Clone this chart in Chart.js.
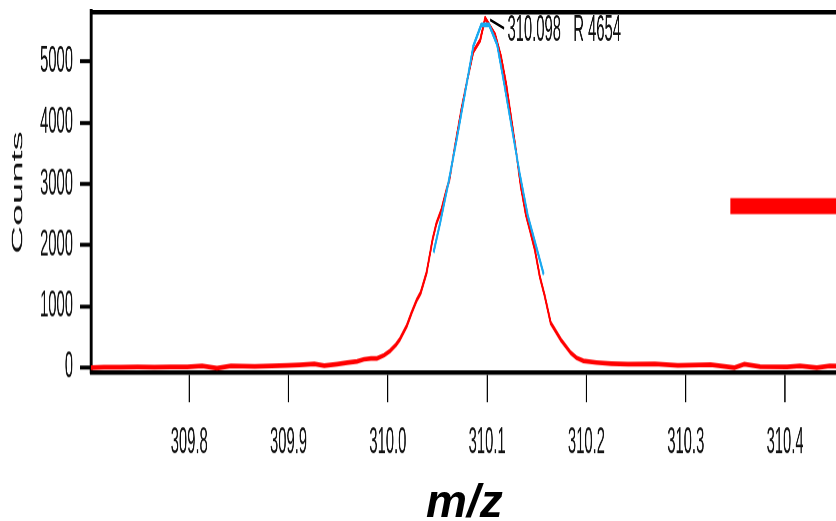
<!DOCTYPE html>
<html>
<head>
<meta charset="utf-8">
<script src="https://cdn.jsdelivr.net/npm/chart.js@4.4.1/dist/chart.umd.min.js"></script>
<style>
  html, body { margin: 0; padding: 0; background: #fff; width: 836px; height: 521px; overflow: hidden; }
  /* the plot is drawn squat and stretched vertically, like the exported trace */
  #plot { position: absolute; left: 0; top: 0; width: 900px; height: 208.4px; transform: scaleY(2.5); transform-origin: 0 0; }
  #mz { position: absolute; left: 426px; top: 478px; font: italic bold 46px 'Liberation Sans', Arial, sans-serif; line-height: 1; color: #000; }
</style>
</head>
<body>
<div id="plot"><canvas id="spectrum"></canvas></div>
<div id="mz">m/z</div>
<script>
// measured profile (red)
const profileMz = [309.701, 309.714, 309.731, 309.748, 309.765, 309.781, 309.798, 309.813, 309.828, 309.842,
  309.866, 309.883, 309.899, 309.911, 309.926, 309.936, 309.949, 309.959, 309.969, 309.976,
  309.983, 309.989, 309.996, 310.002, 310.008, 310.012, 310.019, 310.024, 310.029, 310.033,
  310.039, 310.045, 310.049, 310.054, 310.059, 310.062, 310.067, 310.074, 310.080, 310.086,
  310.093, 310.098, 310.108, 310.114, 310.119, 310.123, 310.129, 310.134, 310.139, 310.143,
  310.148, 310.153, 310.158, 310.164, 310.174, 310.184, 310.190, 310.197, 310.210, 310.225,
  310.242, 310.269, 310.292, 310.325, 310.349, 310.359, 310.375, 310.402, 310.415, 310.432,
  310.445, 310.470, 310.490];
const profileCounts = [0, 5, 5, 10, 5, 10, 10, 25, -10, 25,
  20, 25, 37, 45, 60, 32, 55, 80, 100, 135,
  150, 150, 200, 270, 370, 460, 680, 900, 1100, 1220,
  1550, 2090, 2360, 2580, 2900, 3070, 3560, 4210, 4700, 5160,
  5350, 5710, 5440, 5080, 4650, 4210, 3550, 2950, 2500, 2250,
  1930, 1490, 1170, 730, 460, 245, 160, 108, 82, 65,
  54, 59, 37, 49, 0, 54, 16, 10, 26, 0,
  26, 20, 25];

// peak fit (blue)
const fitMz = [310.046, 310.053, 310.061, 310.069, 310.077, 310.086, 310.094, 310.102, 310.110, 310.117,
  310.125, 310.133, 310.141, 310.149, 310.157];
const fitCounts = [1880, 2390, 3020, 3700, 4420, 5250, 5600, 5600, 5280, 4650,
  3900, 3150, 2480, 2000, 1520];

// legend swatch, mostly off the right edge
const keyMz = [310.345, 310.51];
const keyCounts = [2640, 2640];

const peakMz = 310.098;
const peakResolution = 4654;

const xTicks = [309.8, 309.9, 310.0, 310.1, 310.2, 310.3, 310.4];
const yTicks = [0, 1000, 2000, 3000, 4000, 5000];

const sans = "'Liberation Sans', Arial, sans-serif";

const toPoints = (xs, ys) => xs.map((v, i) => ({ x: v, y: ys[i] }));

// centroid label with its little leader line
const peakLabel = {
  id: 'peakLabel',
  afterDatasetsDraw(chart) {
    const { ctx, scales: { x, y } } = chart;
    const px = x.getPixelForValue(peakMz);
    const py = y.getPixelForValue(profileCounts[profileMz.indexOf(peakMz)]);
    ctx.save();
    ctx.strokeStyle = '#000';
    ctx.lineWidth = 1.1;
    ctx.beginPath();
    ctx.moveTo(px + 5, py + 0.7);
    ctx.lineTo(px + 19, py + 4.1);
    ctx.stroke();
    ctx.font = '14.8px ' + sans;
    ctx.fillStyle = '#111';
    ctx.textBaseline = 'middle';
    ctx.fillText(peakMz.toFixed(3) + '   R ' + peakResolution, px + 22.3, py + 5.1);
    ctx.restore();
  }
};

new Chart(document.getElementById('spectrum'), {
  type: 'line',
  data: {
    datasets: [
      { data: toPoints(fitMz, fitCounts), borderColor: '#1aa9f0', borderWidth: 1.9, xAxisID: 'x', yAxisID: 'y' },
      { data: toPoints(profileMz, profileCounts), borderColor: '#ff0000', borderWidth: 1.9, xAxisID: 'x', yAxisID: 'y' },
      { data: toPoints(keyMz, keyCounts), borderColor: '#ff0000', borderWidth: 6.4, borderCapStyle: 'butt', xAxisID: 'x', yAxisID: 'y' }
    ]
  },
  options: {
    responsive: true,
    maintainAspectRatio: false,
    animation: false,
    devicePixelRatio: 2.5,
    layout: { padding: { top: 5, left: 0, right: 0, bottom: 0 } },
    elements: {
      line: { tension: 0, borderJoinStyle: 'round' },
      point: { radius: 0 }
    },
    plugins: {
      legend: { display: false },
      tooltip: { enabled: false }
    },
    scales: {
      x: {
        type: 'linear',
        position: 'bottom',
        min: 309.7011,
        max: 310.5125,
        border: { color: '#000', width: 1.8 },
        grid: { drawOnChartArea: false, drawTicks: true, tickLength: 12, tickWidth: 1.3, tickColor: '#000' },
        ticks: {
          padding: 7.6, color: '#111', maxRotation: 0, autoSkip: false,
          font: { family: sans, size: 14.8 },
          callback: v => v.toFixed(1)
        },
        afterBuildTicks: s => { s.ticks = xTicks.map(v => ({ value: v })); },
        afterFit: s => { s.height = 59.2; s.paddingLeft = 0; s.paddingRight = 0; }
      },
      top: {
        type: 'linear',
        position: 'top',
        border: { color: '#000', width: 1.8 },
        grid: { display: false, drawTicks: false },
        ticks: { display: false }
      },
      y: {
        type: 'linear',
        min: -77,
        max: 5802,
        border: { color: '#000', width: 3 },
        grid: { drawOnChartArea: false, drawTicks: true, tickLength: 11, tickWidth: 1.6, tickColor: '#000' },
        ticks: { padding: 7, color: '#111', font: { family: sans, size: 14.8 }, callback: v => String(v) },
        title: {
          display: true, text: 'Counts', color: '#111',
          font: { family: sans, size: 15.5 },
          padding: { top: 8.7, bottom: 0 }
        },
        afterBuildTicks: s => { s.ticks = yTicks.map(v => ({ value: v })); },
        afterFit: s => { s.width = 91; s.paddingTop = 0; s.paddingBottom = 0; }
      }
    }
  },
  plugins: [peakLabel]
});
</script>
</body>
</html>
